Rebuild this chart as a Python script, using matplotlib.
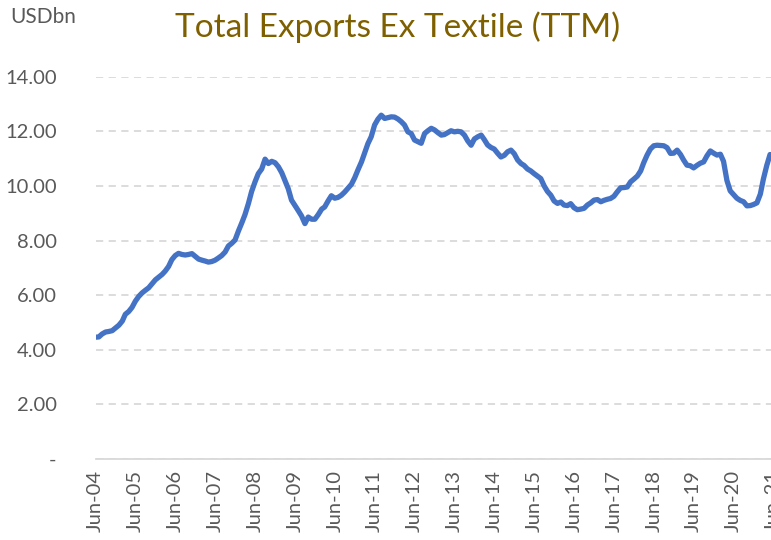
import matplotlib
matplotlib.use("Agg")
import matplotlib.pyplot as plt
import matplotlib.dates as mdates
import matplotlib.ticker as mticker
import pandas as pd

# monthly TTM exports ex textile, USD bn, Jun-04 .. May-21
exports = [
    4.46, 4.47, 4.58, 4.65, 4.67, 4.70, 4.80, 4.90, 5.05, 5.30, 5.40, 5.55,
    5.78, 5.95, 6.08, 6.18, 6.27, 6.42, 6.56, 6.66, 6.76, 6.88, 7.05, 7.30,
    7.45, 7.53, 7.49, 7.47, 7.49, 7.52, 7.42, 7.32, 7.28, 7.25, 7.21, 7.23,
    7.28, 7.36, 7.45, 7.58, 7.80, 7.90, 8.02, 8.35, 8.65, 8.95, 9.35, 9.80,
    10.15, 10.45, 10.62, 10.98, 10.82, 10.90, 10.85, 10.70, 10.48, 10.20, 9.90, 9.48,
    9.29, 9.10, 8.90, 8.62, 8.86, 8.78, 8.78, 8.95, 9.15, 9.23, 9.45, 9.64,
    9.55, 9.58, 9.66, 9.78, 9.92, 10.06, 10.30, 10.60, 10.88, 11.20, 11.55, 11.80,
    12.23, 12.44, 12.59, 12.47, 12.50, 12.53, 12.52, 12.45, 12.35, 12.23, 11.98, 11.92,
    11.68, 11.62, 11.56, 11.92, 12.02, 12.11, 12.05, 11.95, 11.86, 11.88, 11.95, 12.02,
    11.98, 12.00, 11.98, 11.86, 11.65, 11.49, 11.72, 11.80, 11.86, 11.70, 11.50, 11.41,
    11.35, 11.20, 11.06, 11.12, 11.25, 11.31, 11.18, 10.95, 10.82, 10.75, 10.62, 10.55,
    10.45, 10.36, 10.27, 10.00, 9.80, 9.66, 9.45, 9.36, 9.41, 9.30, 9.28, 9.35,
    9.20, 9.13, 9.15, 9.18, 9.30, 9.38, 9.48, 9.50, 9.42, 9.47, 9.51, 9.54,
    9.62, 9.78, 9.93, 9.94, 9.96, 10.15, 10.25, 10.36, 10.55, 10.85, 11.13, 11.35,
    11.47, 11.49, 11.48, 11.47, 11.40, 11.19, 11.20, 11.31, 11.15, 10.95, 10.76, 10.74,
    10.66, 10.75, 10.83, 10.88, 11.10, 11.28, 11.20, 11.13, 11.16, 10.90, 10.20, 9.82,
    9.68, 9.55, 9.47, 9.42, 9.27, 9.28, 9.32, 9.38, 9.70, 10.25, 10.75, 11.15,
]
dates = pd.date_range("2004-06-01", periods=len(exports), freq="MS")
y_ticks = [0, 2, 4, 6, 8, 10, 12, 14]

plt.rcParams['font.family'] = ['Lato', 'DejaVu Sans']
grey = '#595959'

fig = plt.figure(figsize=(7.71, 5.40), dpi=100)
# axes run a little past the right edge, as in the cropped original
ax = fig.add_axes([0.1239, 0.15, 0.8835, 0.708])

ax.plot(dates, exports, color='#4472C4', linewidth=3.8, solid_capstyle='round')

ax.set_ylim(0, 14)
ax.set_yticks(y_ticks)
ax.yaxis.set_major_formatter(mticker.FuncFormatter(lambda v, p: '-' if v == 0 else f'{v:.2f}'))
ax.set_xlim(pd.Timestamp("2004-06-01"), pd.Timestamp("2021-07-01"))
ax.xaxis.set_major_locator(mdates.MonthLocator(bymonth=6))
ax.xaxis.set_major_formatter(mdates.DateFormatter('%b-%y'))

ax.grid(axis='y', color='#D9D9D9', linestyle=(0, (4, 3)), linewidth=1.3)
ax.set_axisbelow(True)
for s in ['top', 'right', 'left']:
    ax.spines[s].set_visible(False)
ax.spines['bottom'].set_color('#D9D9D9')
ax.spines['bottom'].set_linewidth(1.3)

ax.tick_params(axis='y', length=0, pad=28, labelsize=14.5, labelcolor=grey)
ax.tick_params(axis='x', length=0, pad=8, labelsize=14.5, labelcolor=grey, labelrotation=90)

fig.text(0.515, 0.95, 'Total Exports Ex Textile (TTM)', ha='center', va='center',
         fontsize=24, color='#7F6000')
fig.text(0.013, 0.968, 'USDbn', ha='left', va='center', fontsize=15, color=grey)

fig.savefig('out.png', dpi=100)
